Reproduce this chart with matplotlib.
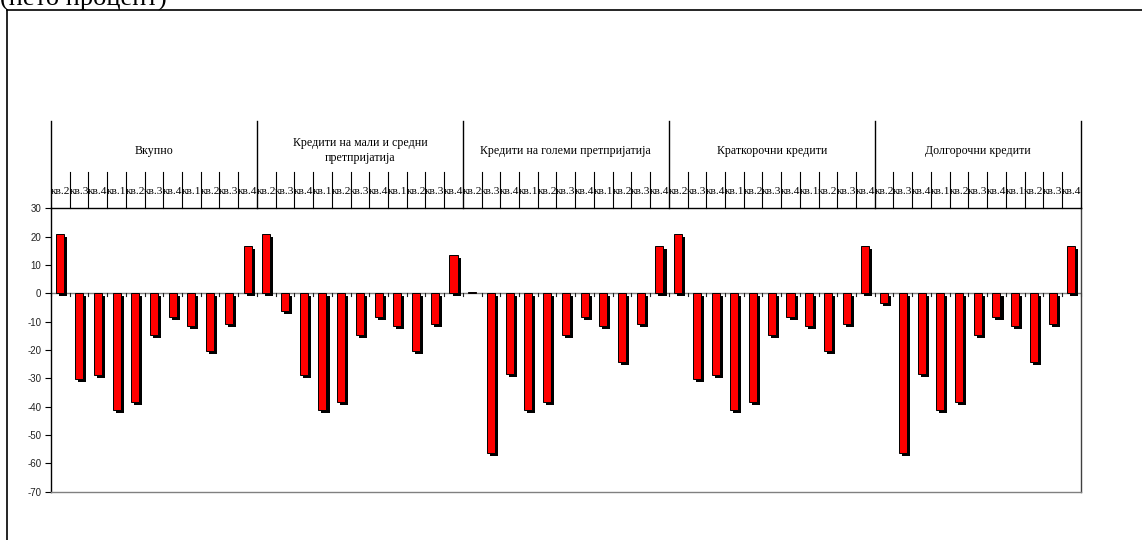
import matplotlib
matplotlib.use("Agg")
import matplotlib.pyplot as plt
import matplotlib.patheffects as pe
import matplotlib.transforms as mtransforms
from matplotlib.lines import Line2D

plt.rcParams["axes.unicode_minus"] = False

W, H = 1142, 540

groups = ["Вкупно", "Кредити на мали и средни\nпретпријатија",
          "Кредити на големи претпријатија", "Краткорочни кредити",
          "Долгорочни кредити"]
quarters = ["кв.2", "кв.3", "кв.4", "кв.1", "кв.2", "кв.3", "кв.4",
            "кв.1", "кв.2", "кв.3", "кв.4"]

vkupno = [20.8, -30.1, -28.8, -41.1, -38.4, -14.7, -8.2, -11.4, -20.5, -10.7, 16.8]
msp = [20.8, -6.2, -28.8, -41.1, -38.4, -14.7, -8.2, -11.4, -20.5, -10.7, 13.6]
golemi = [0.3, -56.5, -28.6, -41.1, -38.4, -14.7, -8.2, -11.4, -24.1, -10.7, 16.8]
kratkorochni = [20.9, -30.1, -28.7, -41.1, -38.4, -14.7, -8.2, -11.4, -20.5, -10.7, 16.8]
dolgorochni = [-3.3, -56.5, -28.6, -41.1, -38.4, -14.7, -8.2, -11.4, -24.1, -10.7, 16.8]

series = [vkupno, msp, golemi, kratkorochni, dolgorochni]
values = [v for s in series for v in s]
n_q = len(quarters)
n = len(values)
xs = list(range(n))

fig = plt.figure(figsize=(W / 100, H / 100), dpi=100)

# plot area in pixel coordinates
left, right, top, bottom = 51, 1080.7, 208.3, 491.7
ax = fig.add_axes([left / W, (H - bottom) / H, (right - left) / W, (bottom - top) / H])
ax.set_xlim(-0.5, n - 0.5)
ax.set_ylim(-70, 30)

bars = ax.bar(xs, values, width=0.43, color="#ff0000", edgecolor="black",
              linewidth=0.7, zorder=3)
for b in bars:
    b.set_path_effects([pe.SimplePatchShadow(offset=(2.2, -2.2), shadow_rgbFace="black",
                                             alpha=1.0), pe.Normal()])

# zero line with small category ticks below it
ax.axhline(0, color="#808080", linewidth=1.0, zorder=2)
bt = mtransforms.blended_transform_factory(ax.transData, ax.transAxes)
px = 1.0 / (bottom - top)
zero_frac = 70 / 100
for k in range(n + 1):
    ax.plot([k - 0.5, k - 0.5], [zero_frac, zero_frac - 3 * px], transform=bt,
            color="#202020", linewidth=0.8, zorder=2, clip_on=False)

# spines
for s in ax.spines.values():
    s.set_linewidth(1.0)
ax.spines["top"].set_color("black")
ax.spines["left"].set_color("black")
ax.spines["bottom"].set_color("#808080")
ax.spines["right"].set_color("#404040")

ax.set_xticks([])
ax.set_yticks(range(-70, 31, 10))
ax.tick_params(axis="y", direction="out", length=4, width=0.8, pad=3,
               labelsize=7, colors="black")
for lab in ax.get_yticklabels():
    lab.set_fontfamily("Liberation Sans")
    lab.set_color("#222222")

# multi-level category header above the plot
q_top = 1 + (top - 171.7) * px
g_top = 1 + (top - 121.0) * px
q_lab = 1 + (top - 191.0) * px
g_lab = 1 + (top - 150.5) * px
for k in range(n + 1):
    is_group = k % n_q == 0
    ytop = g_top if is_group else q_top
    ax.plot([k - 0.5, k - 0.5], [1, ytop], transform=bt, color="black",
            linewidth=1.0 if is_group else 0.8, clip_on=False, zorder=4)
for i in range(n):
    ax.text(i, q_lab, quarters[i % n_q], transform=bt, ha="center", va="center",
            fontsize=8.2, family="Liberation Serif", color="black")
for g, name in enumerate(groups):
    xc = g * n_q + (n_q - 1) / 2
    ax.text(xc, g_lab, name, transform=bt, ha="center", va="center",
            fontsize=8.6, family="Liberation Serif", color="black",
            linespacing=1.3)

# outer frame (left and top edges)
fig.add_artist(Line2D([7 / W, 7 / W], [0, (H - 10) / H], transform=fig.transFigure,
                      color="black", linewidth=1.2))
fig.add_artist(Line2D([7 / W, 1], [(H - 10) / H, (H - 10) / H], transform=fig.transFigure,
                      color="black", linewidth=1.2))

fig.text(0.0, (H - 6) / H, "(нето процент)", ha="left", va="baseline",
         fontsize=19, family="Liberation Serif", color="black")

fig.savefig("out.png", dpi=100)
